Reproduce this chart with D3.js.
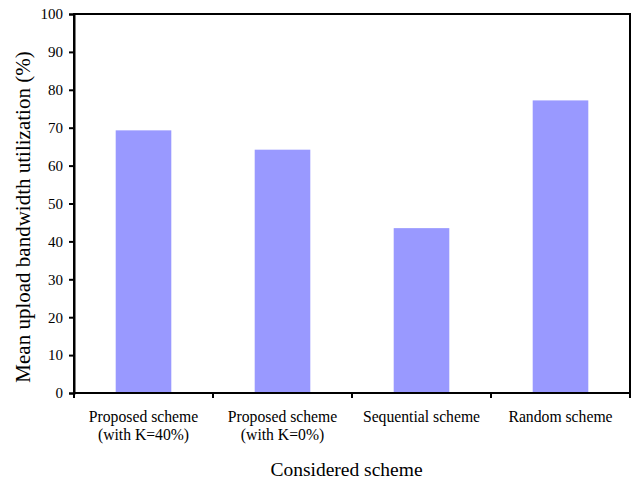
<!DOCTYPE html>
<html><head><meta charset="utf-8">
<script src="https://cdn.jsdelivr.net/npm/d3@7"></script>
<style>body{margin:0;background:#fff}svg{display:block}</style>
</head><body>
<svg id="c" width="632" height="479"></svg>
<script>
const categories = [["Proposed scheme","(with K=40%)"],["Proposed scheme","(with K=0%)"],["Sequential scheme"],["Random scheme"]];
const values = [69.3, 64.2, 43.5, 77.2];
const yTicks = [0,10,20,30,40,50,60,70,80,90,100];

const FONT = "'Liberation Serif', 'Times New Roman', Times, 'DejaVu Serif', serif";
const svg = d3.select("#c").style("font-family", FONT);
const L=74, R=630, T=14, B=393;
const x = d3.scaleBand().domain(d3.range(categories.length)).range([L,R]).paddingInner(0.6).paddingOuter(0.3);
const y = d3.scaleLinear().domain([0,100]).range([B,T]);

svg.selectAll("rect.bar").data(values).join("rect").attr("class","bar")
  .attr("x",(d,i)=>x(i)).attr("width",x.bandwidth())
  .attr("y",d=>y(d)).attr("height",d=>B-y(d)).attr("fill","#9999FF");

svg.append("rect").attr("x",L).attr("y",T).attr("width",R-L).attr("height",B-T)
  .attr("fill","none").attr("stroke","#000").attr("stroke-width",2);

const ya = svg.append("g").attr("transform",`translate(${L},0)`)
  .call(d3.axisLeft(y).tickValues(yTicks).tickSize(5).tickPadding(6).tickFormat(d3.format("d")));
ya.attr("font-family", null).style("font-family", FONT);
ya.select(".domain").attr("stroke-width",2);
ya.selectAll(".tick line").attr("stroke-width",2);
ya.selectAll("text").attr("font-size",15).style("font-family", FONT).attr("fill","#000");

const bounds = d3.range(categories.length+1).map(i=>L+i*(R-L)/categories.length);
svg.selectAll("line.xt").data(bounds).join("line").attr("class","xt")
  .attr("x1",d=>d).attr("x2",d=>d).attr("y1",B).attr("y2",B+5)
  .attr("stroke","#000").attr("stroke-width",2);

const xl = svg.selectAll("text.xl").data(categories).join("text").attr("class","xl")
  .attr("text-anchor","middle").attr("font-size",15.7).style("font-family", FONT)
  .attr("transform",(d,i)=>`translate(${x(i)+x.bandwidth()/2},${421.5})`);
xl.selectAll("tspan").data(d=>d).join("tspan").attr("x",0).attr("dy",(d,i)=>i===0?0:18.5).text(d=>d);

svg.append("text").attr("x",(L+R)/2-5.5).attr("y",476).attr("text-anchor","middle").style("font-family", FONT)
  .attr("font-size",19.5).text("Considered scheme");
svg.append("text").attr("transform",`translate(29.5,217) rotate(-90)`).attr("text-anchor","middle").style("font-family", FONT)
  .attr("font-size",21).text("Mean upload bandwidth utilization (%)");
</script>
</body></html>
